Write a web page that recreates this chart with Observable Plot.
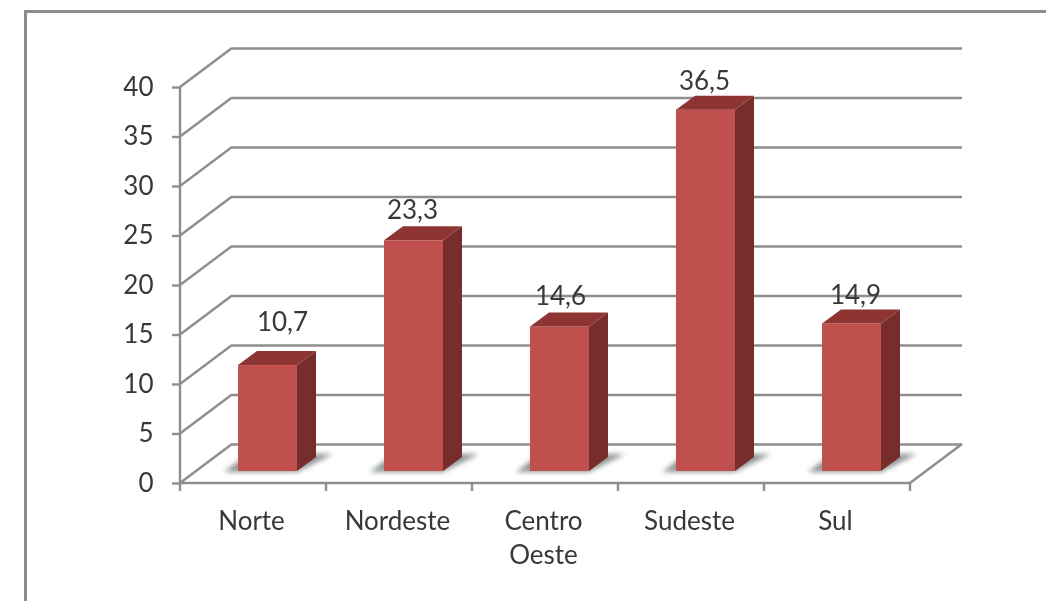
<!DOCTYPE html>
<html>
<head>
<meta charset="utf-8">
<script src="https://cdn.jsdelivr.net/npm/d3@7"></script>
<script src="https://cdn.jsdelivr.net/npm/@observablehq/plot@0.6"></script>
<style>
html,body{margin:0;padding:0;background:#fff;overflow:hidden}
#chart{position:relative;width:1046px;height:601px;overflow:hidden}
#frame{position:absolute;left:24px;top:10px;width:1030px;height:600px;border-left:3px solid #8c8c8c;border-top:3px solid #8c8c8c;box-sizing:border-box;filter:blur(.5px)}
#chart svg{position:absolute;left:0;top:0;filter:blur(.55px)}
</style>
</head>
<body>
<div id="chart"><div id="frame"></div></div>
<script>
const regions = ["Norte", "Nordeste", "Centro Oeste", "Sudeste", "Sul"];
const values = [10.7, 23.3, 14.6, 36.5, 14.9];
const valueLabels = ["10,7", "23,3", "14,6", "36,5", "14,9"];
const yTicks = [0, 5, 10, 15, 20, 25, 30, 35, 40];

const table = regions.map((region, i) => ({region, value: values[i], label: valueLabels[i]}));

const FONT = "Lato, Carlito, 'Open Sans', sans-serif";
const GRID = "#8e8e8e";
const INK = "#383838";
// projection of the chart's 3D look
const wall = {dx: 52, dy: -39};
const barShift = {dx: 14.5, dy: -12};
const depth = {dx: 19, dy: -14};
const labelShift = [
  {dx: 29, dy: -55}, {dx: 13, dy: -42}, {dx: 15, dy: -42}, {dx: 13, dy: -40}, {dx: 18, dy: -40}
];

const svgEl = (name, attrs, parent) => {
  const el = document.createElementNS("http://www.w3.org/2000/svg", name);
  for (const k in attrs) el.setAttribute(k, attrs[k]);
  if (parent) parent.appendChild(el);
  return el;
};
const poly = (pts, fill, parent, extra = {}) =>
  svgEl("polygon", {points: pts.map(p => p.join(",")).join(" "), fill, ...extra}, parent);

function frameMark(index, {x, y}, values, {width, marginLeft, marginRight}) {
  const g = svgEl("g", {stroke: GRID, "stroke-width": 2.4, fill: "none"});
  const x0 = marginLeft, x1 = width - marginRight;
  for (const t of yTicks) {
    svgEl("line", {x1: x0, y1: y(t), x2: x0 + wall.dx, y2: y(t) + wall.dy}, g);
  }
  svgEl("line", {x1, y1: y(0), x2: x1 + wall.dx, y2: y(0) + wall.dy}, g);
  svgEl("line", {x1: x0, y1: y(0), x2: x1, y2: y(0)}, g);
  svgEl("line", {x1: x0, y1: y(0), x2: x0, y2: y(40)}, g);
  for (const r of regions) {
    svgEl("line", {x1: x(r), y1: y(0), x2: x(r), y2: y(0) + 8}, g);
  }
  svgEl("line", {x1, y1: y(0), x2: x1, y2: y(0) + 8}, g);
  return g;
}

const inset = 43.5;
function shadowMark(index, {x, y}) {
  const g = svgEl("g", {});
  const f = svgEl("filter", {id: "blur", x: "-30%", y: "-60%", width: "160%", height: "220%"}, g);
  svgEl("feGaussianBlur", {stdDeviation: 2.5}, f);
  const base = y(0) + barShift.dy;
  for (const r of regions) {
    const l = x(r) + inset + barShift.dx, h = x(r) + x.bandwidth() - inset + barShift.dx;
    poly([[l - 14, base + 1], [h, base + 1], [h + 36, base - 17], [l + 10, base - 17]], "#8f9494", g, {filter: "url(#blur)"});
  }
  return g;
}

function facesMark(index, {x, y}) {
  const g = svgEl("g", {});
  table.forEach(d => {
    const l = x(d.region) + inset + barShift.dx, h = x(d.region) + x.bandwidth() - inset + barShift.dx;
    const top = y(d.value) + barShift.dy, base = y(0) + barShift.dy;
    poly([[h, top], [h + depth.dx, top + depth.dy], [h + depth.dx, base + depth.dy], [h, base]], "#772d2b", g);
    poly([[l, top], [l + depth.dx, top + depth.dy], [h + depth.dx, top + depth.dy], [h, top]], "#8e3533", g);
  });
  return g;
}

const chart = Plot.plot({
  width: 1046,
  height: 601,
  marginLeft: 180,
  marginRight: 136,
  marginTop: 87,
  marginBottom: 118,
  style: {background: "transparent", fontFamily: FONT},
  x: {domain: regions, padding: 0, label: null},
  y: {domain: [0, 40], label: null},
  marks: [
    Plot.ruleY(yTicks, {y: d => d, stroke: GRID, strokeWidth: 2.4, dx: wall.dx, dy: wall.dy}),
    frameMark,
    shadowMark,
    Plot.axisY({ticks: yTicks, tickSize: 8, tickPadding: 19, fontSize: 26, color: INK, stroke: GRID, strokeWidth: 2.4, label: null, tickFormat: d => String(d)}),
    Plot.axisX({tickSize: 0, tickPadding: 22, dx: -2, fontSize: 26, lineHeight: 1.32, fill: INK, label: null, tickFormat: d => d.replace(" ", "\n")}),
    Plot.barY(table, {x: "region", y: "value", fill: "#c0504d", insetLeft: inset, insetRight: inset, dx: barShift.dx, dy: barShift.dy}),
    facesMark,
    ...table.map((d, i) => Plot.text([d], {x: "region", y: "value", text: "label", fontSize: 26, fill: INK, dx: labelShift[i].dx, dy: labelShift[i].dy}))
  ]
});
document.getElementById("chart").appendChild(chart);
</script>
</body>
</html>
